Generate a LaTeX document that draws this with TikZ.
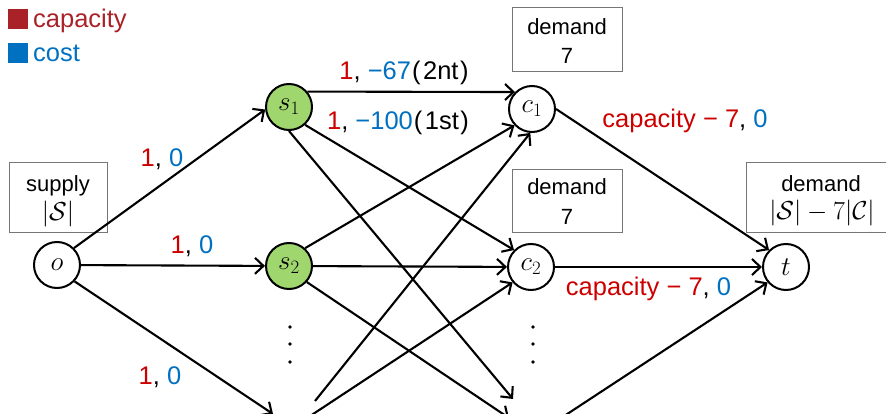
\RequirePackage{fix-cm}
\documentclass[tikz,border=0pt]{standalone}
\usepackage[no-math]{fontspec}
\setmainfont{Liberation Sans}
\usetikzlibrary{arrows.meta}
\definecolor{legred}{RGB}{168,34,40}
\definecolor{capred}{RGB}{205,0,0}
\definecolor{costblue}{RGB}{0,112,192}
\definecolor{srcgreen}{RGB}{160,214,110}
\definecolor{boxgray}{RGB}{118,118,118}
\newcommand\setfs[1]{\fontsize{#1}{#1}\selectfont}
\begin{document}
\begin{tikzpicture}[x=1pt,y=-1pt,
  vert/.style={circle,draw,line width=2pt,minimum size=46pt,inner sep=0pt,font=\setfs{27}},
  srcvert/.style={vert,fill=srcgreen},
  flow/.style={line width=2.1pt,-{Straight Barb[length=8.5pt,width=16pt]}},
  infobox/.style={draw=boxgray,line width=1pt,inner sep=0pt},
  boxtext/.style={anchor=base,inner sep=0pt,font=\setfs{22}},
  boxmath/.style={anchor=base,inner sep=0pt,font=\setfs{26}},
  elabel/.style={anchor=base,inner sep=0pt,font=\setfs{25.5}},
  legsq/.style={inner sep=0pt,minimum size=20pt},
  legtext/.style={anchor=base west,inner sep=0pt,font=\setfs{25.5}},
  vdot/.style={circle,fill,inner sep=0pt,minimum size=3.8pt}]
\useasboundingbox (0,0) rectangle (886,414);
\clip (0,0) rectangle (886,414);

% legend
\node[legsq,fill=legred] (legcap) at (18,19) {};
\node[legtext,text=legred] (legcaptext) at (33,28) {capacity};
\node[legsq,fill=costblue] (legcost) at (18,53) {};
\node[legtext,text=costblue] (legcosttext) at (33,62) {cost};

% nodes
\node[vert] (o) at (57,265) {$o$};
\node[srcvert] (s1) at (289,107) {$s_1$};
\node[srcvert] (s2) at (289,266) {$s_2$};
\node[vert] (c1) at (532,109) {$c_1$};
\node[vert] (c2) at (531,267) {$c_2$};
\node[vert] (t) at (786,267) {$t$};

% hidden (cut-off) ends
\coordinate (oSnEnd) at (273,414);
\coordinate (s1CmEnd) at (513,399);
\coordinate (s2CmEnd) at (509,418);
\coordinate (snCOneStart) at (315,401);
\coordinate (snCTwoStart) at (298,424);
\coordinate (cmTStart) at (552,424);

% dots
\node[vdot] (sdA) at (290,327) {};
\node[vdot] (sdB) at (290,344) {};
\node[vdot] (sdC) at (290,362) {};
\node[vdot] (cdA) at (533,327) {};
\node[vdot] (cdB) at (533,344) {};
\node[vdot] (cdC) at (533,362) {};

% boxes
\node[infobox,minimum width=98pt,minimum height=70pt] (supbox) at (58,198) {};
\node[boxtext] (suptext) at (58,192) {supply};
\node[boxmath] (supmath) at (58,220.5) {$|\mathcal{S}|$};

\node[infobox,minimum width=110pt,minimum height=64pt] (dboxA) at (567,40) {};
\node[boxtext] (dtextA) at (567,35) {demand};
\node[boxtext] (dnumA) at (567,64) {7};

\node[infobox,minimum width=110pt,minimum height=63pt] (dboxB) at (567,201.5) {};
\node[boxtext] (dtextB) at (567,195) {demand};
\node[boxtext] (dnumB) at (567,225) {7};

\node[infobox,minimum width=144pt,minimum height=70pt] (tbox) at (818,198) {};
\node[boxtext] (ttext) at (821,192) {demand};
\node[boxmath] (tmath) at (822,219.5) {$|\mathcal{S}|-7|\mathcal{C}|$};

% edges
\draw[flow] (o.45) -- (s1.186);
\draw[flow] (o) -- (s2);
\draw[flow] (o.-43) -- (oSnEnd);
\draw[flow] (s1.40) -- (c1.135);
\draw[flow] (s1.-48) -- (c2.135);
\draw[flow] (s1.south) -- (s1CmEnd);
\draw[flow] (s2.48) -- (c1.223);
\draw[flow] (s2) -- (c2);
\draw[flow] (s2.-42) -- (s2CmEnd);
\draw[flow] (snCOneStart) -- (c1.266);
\draw[flow] (snCTwoStart) -- (c2.220);
\draw[flow] (c1.east) -- (t.135);
\draw[flow] (c2) -- (t);
\draw[flow] (cmTStart) -- (t.220);

% edge labels
\node[elabel] (lOS1) at (162,167) {\textcolor{capred}{1}, \textcolor{costblue}{0}};
\node[elabel] (lOS2) at (192,254) {\textcolor{capred}{1}, \textcolor{costblue}{0}};
\node[elabel] (lOSn) at (160,384) {\textcolor{capred}{1}, \textcolor{costblue}{0}};
\node[elabel] (lSC1) at (404,80) {\textcolor{capred}{1}, \textcolor{costblue}{−67}\hspace{1pt}(\hspace{2.5pt}2nt\hspace{1.5pt})};
\node[elabel] (lSC2) at (398,130) {\textcolor{capred}{1}, \textcolor{costblue}{−100}\hspace{1pt}(\hspace{2.5pt}1st\hspace{1.5pt})};
\node[elabel] (lCT1) at (685,128) {\textcolor{capred}{capacity − 7}, \textcolor{costblue}{0}};
\node[elabel] (lCT2) at (648.5,295) {\textcolor{capred}{capacity − 7}, \textcolor{costblue}{0}};
\end{tikzpicture}
\end{document}
